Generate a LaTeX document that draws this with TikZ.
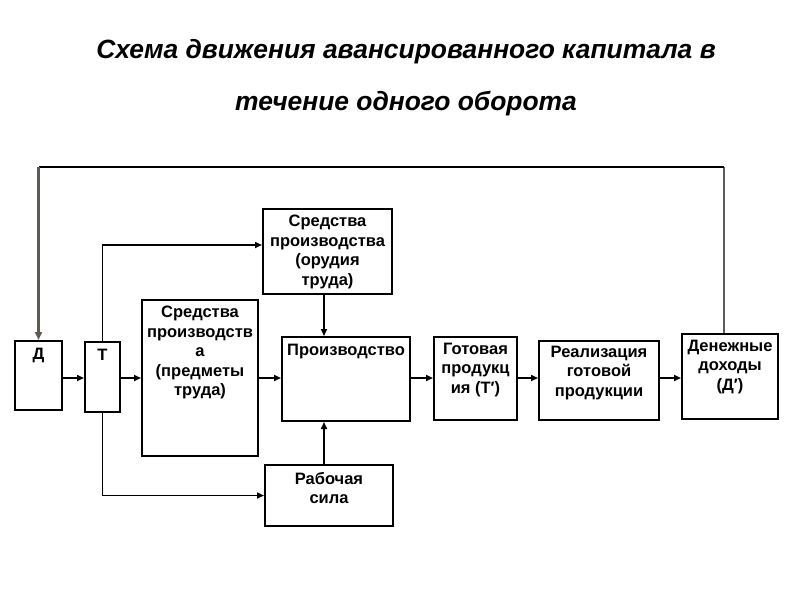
\documentclass[tikz,border=0pt]{standalone}
\usepackage{fontspec}
\setmainfont{Liberation Sans}
\usetikzlibrary{arrows.meta}
\definecolor{fbgray}{HTML}{5F5A55}
\tikzset{
  box/.style={draw=black, line width=2pt, inner sep=0pt, fill=white},
  lbl/.style={font=\bfseries\fontsize{16.5}{19.5}\selectfont, align=center, inner sep=0pt},
  conn/.style={line width=1.6pt, -{Triangle[length=7pt,width=6pt]}},
}
\begin{document}
\begin{tikzpicture}[x=1pt,y=-1pt]
\useasboundingbox (0,0) rectangle (800,600);
% title
\node[font=\bfseries\itshape\fontsize{26.4}{30}\selectfont, inner sep=0pt] (t1) at (406,52) {Схема движения авансированного капитала в};
\node[font=\bfseries\itshape\fontsize{26.4}{30}\selectfont, inner sep=0pt] (t2) at (406,104) {течение одного оборота};
% boxes
\node[box, minimum width=47pt, minimum height=69pt] (d) at (38.5,375.5) {};
\node[box, minimum width=35pt, minimum height=70pt] (t) at (102.5,377) {};
\node[box, minimum width=116pt, minimum height=156pt] (pred) at (200,378) {};
\node[box, minimum width=129pt, minimum height=85pt] (orud) at (327.5,251.5) {};
\node[box, minimum width=128pt, minimum height=84pt] (proiz) at (346,379) {};
\node[box, minimum width=83pt, minimum height=83pt] (got) at (475.5,378.5) {};
\node[box, minimum width=120pt, minimum height=79pt] (real) at (599,380.5) {};
\node[box, minimum width=96pt, minimum height=85pt] (den) at (730,376.5) {};
\node[box, minimum width=128pt, minimum height=61pt] (rab) at (329,495.5) {};
% labels
\node[lbl] (dl) at (38.5,355) {Д};
\node[lbl] (tl) at (102.5,355) {Т};
\node[lbl, anchor=north] (predl) at (200,306) {Средства\\производств\\а\\(предметы\\труда)};
\node[lbl] (orudl) at (327.5,252) {Средства\\производства\\(орудия\\труда)};
\node[lbl] (proizl) at (346,352) {Производство};
\node[lbl] (gotl) at (475.5,370) {Готовая\\продукц\\ия (Т′)};
\node[lbl] (reall) at (599,373) {Реализация\\готовой\\продукции};
\node[lbl] (denl) at (730,367) {Денежные\\доходы\\(Д′)};
\node[lbl] (rabl) at (329,488) {Рабочая\\сила};
% helper coordinates
\coordinate (ym) at (0,378);
\coordinate (yo) at (0,245);
\coordinate (xa) at (324,0);
\coordinate (fbR) at (724,167);
\coordinate (fbL) at (38.5,167);
% connectors
\draw[line width=2.4pt, fbgray] (fbR |- den.north) -- (fbR);
\draw[line width=2.4pt, black] (fbR) -- (fbL);
\draw[line width=2.4pt, fbgray, -{Triangle[length=8pt,width=7pt]}] (fbL) -- (d.north);
\draw[conn] (d.east |- ym) -- (t.west |- ym);
\draw[conn] (t.east |- ym) -- (pred.west |- ym);
\draw[conn] (t.north) |- (orud.west |- yo);
\draw[conn] (t.south) |- (rab.west);
\draw[conn] (pred.east |- ym) -- (proiz.west |- ym);
\draw[conn] (orud.south -| xa) -- (proiz.north -| xa);
\draw[conn] (rab.north -| xa) -- (proiz.south -| xa);
\draw[conn] (proiz.east |- ym) -- (got.west |- ym);
\draw[conn] (got.east |- ym) -- (real.west |- ym);
\draw[conn] (real.east |- ym) -- (den.west |- ym);
\end{tikzpicture}
\end{document}
